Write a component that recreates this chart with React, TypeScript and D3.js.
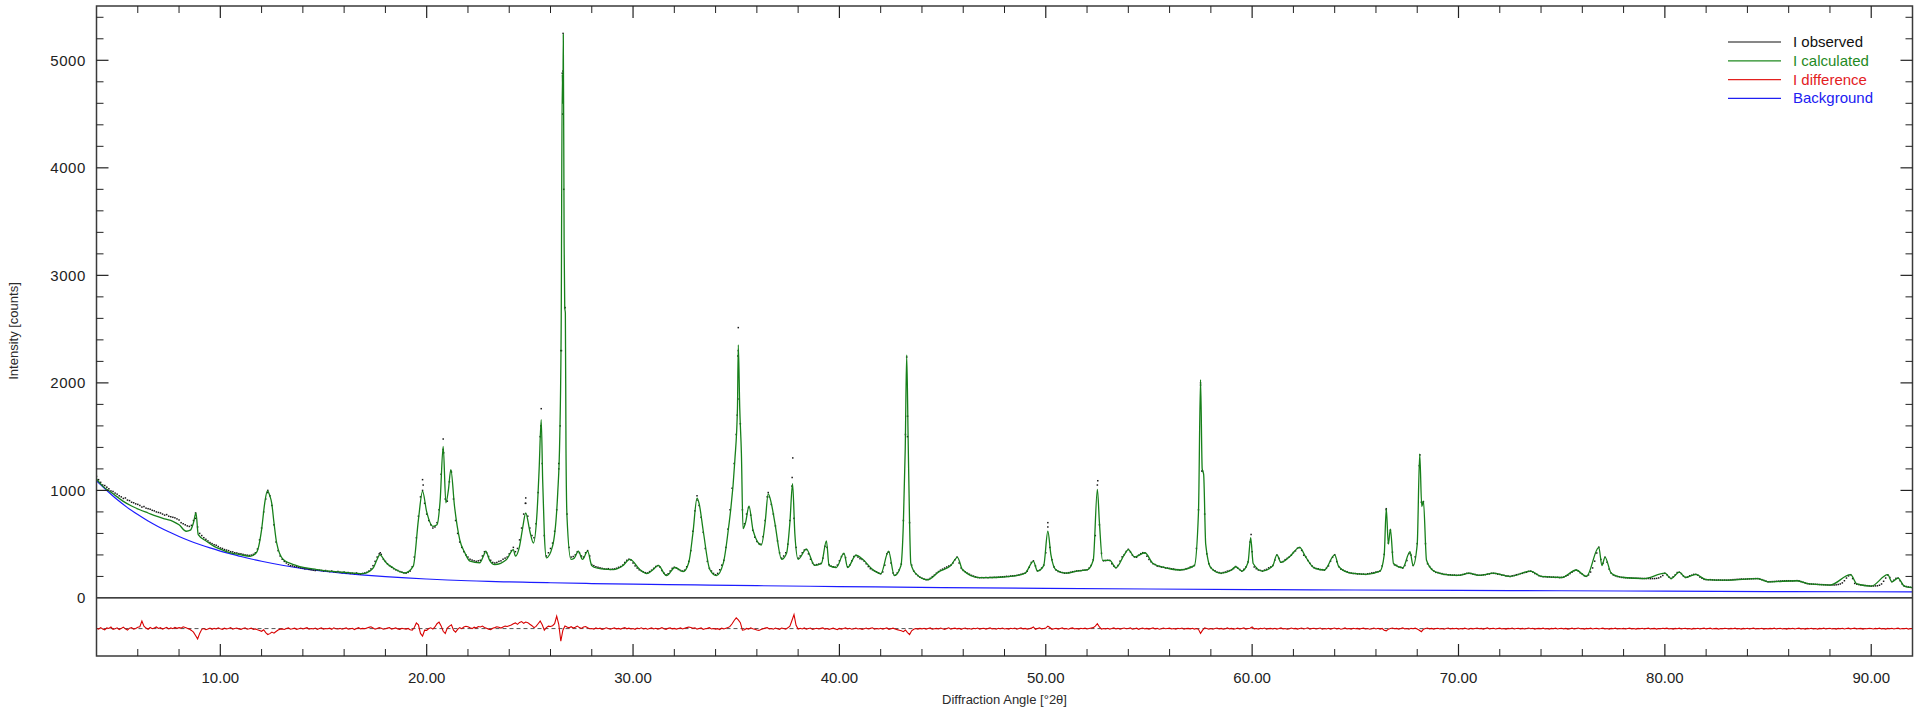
import React from "react";
import * as d3 from "d3";

const W = 1920;
const H = 713;
const PLOT = { left: 96.5, right: 1912.5, top: 6, bottom: 656 };

const X_DOMAIN: [number, number] = [4, 92];
const Y_DOMAIN: [number, number] = [-540, 5505];
const DIFF_BASELINE = -285;

const xMajorTicks = [10, 20, 30, 40, 50, 60, 70, 80, 90];
const xTickLabels = ["10.00", "20.00", "30.00", "40.00", "50.00", "60.00", "70.00", "80.00", "90.00"];
const xMinorTicks = [6, 8, 12, 14, 16, 18, 22, 24, 26, 28, 32, 34, 36, 38, 42, 44, 46, 48, 52, 54, 56, 58, 62, 64, 66, 68, 72, 74, 76, 78, 82, 84, 86, 88];
const yMajorTicks = [0, 1000, 2000, 3000, 4000, 5000];
const yTickLabels = ["0", "1000", "2000", "3000", "4000", "5000"];
const yMinorTicks = [200, 400, 600, 800, 1200, 1400, 1600, 1800, 2200, 2400, 2600, 2800, 3200, 3400, 3600, 3800, 4200, 4400, 4600, 4800, 5200, 5400];

const legendNames = ["I observed", "I calculated", "I difference", "Background"];
const legendColors = ["#111111", "#1f8a1f", "#e3211f", "#2020f2"];
const lineColors = { calc: "#17801a", diff: "#d80000", bg: "#1c1cff", obs: "#1a1a1a" };

// calculated profile [2θ, counts]
const calcPoints: [number, number][] = [
  [4.0, 1107], [4.3, 1040], [4.65, 990], [5.0, 940], [5.3, 898], [5.7, 855], [6.1, 820], [6.5, 790], [6.9, 760], [7.3, 735], [7.7, 712], [8.0, 680], [8.35, 620], [8.55, 630], [8.7, 700], [8.82, 790], [8.93, 588], [9.33, 527], [9.7, 480], [10.14, 443], [10.5, 420], [10.95, 403], [11.44, 387], [11.76, 425], [12.0, 636], [12.15, 880], [12.28, 995], [12.4, 950], [12.49, 882], [12.6, 700], [12.73, 511], [13.05, 357], [13.7, 301], [14.67, 264], [15.96, 239], [16.93, 226], [17.2, 245], [17.41, 279], [17.6, 360], [17.73, 403], [17.85, 380], [17.98, 341], [18.38, 279], [18.95, 233], [19.35, 295], [19.6, 729], [19.8, 992], [20.0, 800], [20.3, 666], [20.5, 680], [20.65, 900], [20.8, 1410], [20.93, 884], [21.05, 1000], [21.17, 1193], [21.35, 850], [21.6, 543], [21.85, 420], [22.1, 342], [22.57, 327], [22.75, 390], [22.86, 435], [23.05, 350], [23.3, 311], [23.87, 358], [24.2, 450], [24.3, 389], [24.5, 480], [24.65, 650], [24.8, 790], [25.0, 620], [25.17, 511], [25.35, 800], [25.45, 1200], [25.55, 1658], [25.62, 1100], [25.7, 600], [25.8, 373], [26.1, 482], [26.35, 977], [26.45, 1500], [26.52, 2600], [26.57, 4870], [26.6, 4600], [26.62, 5240], [26.66, 3300], [26.69, 2700], [26.72, 2650], [26.75, 1400], [26.8, 750], [26.99, 358], [27.15, 370], [27.35, 435], [27.55, 358], [27.8, 435], [28.0, 300], [28.15, 283], [28.5, 270], [29.04, 264], [29.5, 300], [29.85, 359], [30.33, 264], [30.66, 226], [30.95, 260], [31.22, 302], [31.62, 207], [32.03, 283], [32.43, 245], [32.7, 330], [32.9, 600], [33.1, 929], [33.2, 880], [33.4, 625], [33.72, 264], [34.04, 207], [34.37, 321], [34.61, 625], [34.93, 1271], [35.06, 1766], [35.1, 2354], [35.17, 1766], [35.25, 1347], [35.33, 644], [35.45, 700], [35.62, 853], [35.82, 625], [36.22, 492], [36.4, 700], [36.55, 967], [36.7, 880], [36.87, 701], [37.2, 359], [37.44, 416], [37.6, 700], [37.73, 1062], [37.84, 600], [38.0, 359], [38.4, 454], [38.8, 302], [39.13, 321], [39.37, 530], [39.5, 300], [39.85, 283], [40.22, 416], [40.4, 283], [40.8, 397], [41.13, 359], [41.61, 264], [42.01, 226], [42.38, 435], [42.66, 207], [42.98, 300], [43.1, 700], [43.19, 1386], [43.26, 2260], [43.33, 1481], [43.4, 700], [43.46, 321], [43.7, 226], [44.27, 169], [44.83, 245], [45.4, 302], [45.72, 378], [45.96, 264], [46.77, 188],
  [47.5, 190], [48.5, 205], [49.0, 230], [49.4, 340], [49.6, 250], [49.9, 300], [50.1, 620], [50.25, 400], [50.5, 260], [51.0, 230], [51.5, 250], [52.0, 260], [52.3, 350], [52.5, 1010], [52.6, 700], [52.75, 350], [53.1, 350], [53.4, 280], [53.8, 400], [54.0, 450], [54.3, 380], [54.8, 420], [55.2, 320], [55.8, 280], [56.5, 260], [57.2, 300], [57.4, 800], [57.5, 2030], [57.58, 1200], [57.65, 1150], [57.75, 500], [58.0, 280], [58.5, 230], [59.0, 260], [59.2, 290], [59.5, 250], [59.8, 330], [59.93, 560], [60.05, 320], [60.5, 250], [61.0, 300], [61.2, 400], [61.4, 330], [61.8, 380], [62.3, 470], [62.6, 380], [63.0, 280], [63.5, 260], [64.0, 400], [64.2, 290], [64.8, 230], [65.5, 220], [66.2, 250], [66.4, 400], [66.5, 830], [66.6, 500], [66.7, 640], [66.85, 320], [67.3, 280], [67.65, 430], [67.8, 300], [68.0, 500], [68.12, 1340], [68.22, 850], [68.3, 900], [68.45, 350], [68.8, 250], [69.3, 220], [70.0, 210], [70.5, 230], [71.0, 210], [71.7, 230], [72.5, 200], [73.5, 250], [74.0, 200], [75.0, 190], [75.7, 260], [76.2, 200], [76.8, 470], [76.95, 300], [77.1, 380], [77.4, 230], [78.0, 190], [79.0, 180], [80.0, 230], [80.3, 180], [80.7, 240], [81.0, 190], [81.5, 220], [82.0, 170], [83.0, 165], [83.9, 175], [84.5, 180], [85.0, 150], [86.4, 160], [87.0, 130], [88.0, 120], [89.0, 216], [89.3, 130], [90.0, 110], [90.8, 216], [91.0, 150], [91.3, 185], [91.6, 110], [92.0, 95],
];

// background [2θ, counts]
const backgroundPoints: [number, number][] = [
  [4, 1090], [4.5, 1000], [5, 915], [5.5, 840], [6, 775], [6.5, 715], [7, 662], [7.5, 615], [8, 572], [8.5, 532], [9, 497], [9.5, 465], [10, 436], [10.5, 410], [11, 385], [11.5, 362], [12, 341], [13, 304], [14, 273], [15, 248], [16, 228], [17, 212], [18, 198], [19, 186], [20, 176], [21, 167], [22, 160], [23, 154], [24, 149], [25, 145], [26, 141], [28, 134], [30, 129], [33, 121], [36, 114], [40, 106], [45, 96], [50, 89], [55, 83], [60, 78], [65, 74], [70, 70], [75, 67], [80, 63], [86, 59], [92, 56],
];

// observed counts, 2θ from 4.0 in steps of 0.1 (one row per degree)
const OBS_START = 4;
const OBS_STEP = 0.1;
const obsRows: number[][] = [
  [1130, 1100, 1075, 1050, 1045, 1030, 1015, 995, 990, 975],
  [965, 950, 940, 925, 930, 910, 905, 890, 885, 875],
  [870, 860, 845, 850, 835, 830, 825, 815, 810, 800],
  [795, 790, 780, 770, 775, 760, 755, 750, 745, 735],
  [725, 700, 690, 680, 670, 665, 675, 720, 740, 660],
  [600, 580, 560, 545, 530, 515, 505, 495, 490, 478],
  [465, 460, 450, 445, 440, 430, 428, 420, 418, 412],
  [410, 405, 400, 398, 395, 398, 405, 420, 455, 540],
  [650, 800, 920, 980, 950, 860, 680, 520, 440, 390],
  [360, 340, 325, 310, 300, 298, 292, 290, 285, 280],
  [278, 270, 272, 265, 262, 258, 255, 262, 258, 255],
  [250, 255, 248, 245, 250, 244, 240, 246, 238, 235],
  [240, 232, 236, 228, 230, 226, 232, 225, 222, 228],
  [232, 238, 250, 270, 300, 340, 380, 410, 405, 360],
  [340, 318, 300, 285, 272, 262, 255, 245, 240, 232],
  [230, 238, 250, 290, 380, 560, 760, 940, 1000, 880],
  [780, 720, 680, 650, 660, 700, 820, 1150, 1380, 920],
  [900, 1080, 1170, 920, 720, 600, 520, 470, 430, 400],
  [380, 360, 352, 345, 340, 345, 350, 390, 430, 420],
  [385, 350, 330, 325, 330, 340, 345, 360, 370, 380],
  [410, 440, 470, 430, 460, 540, 650, 780, 880, 760],
  [650, 580, 560, 690, 980, 1500, 1250, 580, 390, 420],
  [460, 510, 620, 820, 1250, 2300, 4900, 2700, 780, 470],
  [380, 385, 400, 430, 420, 390, 380, 420, 440, 390],
  [310, 300, 290, 285, 280, 275, 270, 268, 272, 265],
  [268, 270, 276, 285, 292, 305, 330, 350, 360, 352],
  [325, 298, 278, 262, 252, 242, 235, 232, 245, 258],
  [275, 292, 300, 288, 255, 230, 215, 225, 250, 275],
  [285, 278, 265, 255, 250, 258, 290, 340, 440, 620],
  [810, 910, 860, 750, 610, 460, 340, 275, 250, 228],
  [215, 228, 262, 305, 350, 470, 640, 820, 1020, 1250],
  [1520, 2300, 1620, 820, 690, 780, 840, 770, 630, 565],
  [525, 505, 500, 570, 720, 940, 940, 870, 780, 670],
  [530, 420, 370, 390, 420, 500, 720, 1040, 740, 470],
  [370, 390, 420, 445, 450, 410, 360, 325, 305, 310],
  [315, 320, 370, 480, 470, 310, 295, 290, 285, 305],
  [345, 385, 410, 375, 290, 305, 345, 385, 395, 380],
  [365, 358, 342, 318, 292, 272, 262, 252, 243, 232],
  [225, 242, 305, 410, 425, 325, 232, 212, 232, 262],
  [315, 720, 1520, 1690, 700, 305, 250, 225, 208, 193],
  [184, 176, 170, 172, 182, 198, 212, 230, 245, 258],
  [268, 278, 288, 297, 305, 325, 355, 380, 325, 278],
  [256, 243, 230, 220, 210, 203, 196, 190, 188, 189],
  [188, 190, 188, 191, 190, 192, 191, 193, 195, 197],
  [198, 201, 200, 204, 205, 207, 210, 214, 220, 226],
  [232, 248, 285, 330, 345, 298, 252, 257, 278, 305],
  [420, 660, 470, 355, 288, 260, 246, 240, 236, 230],
  [231, 235, 239, 244, 246, 251, 253, 254, 258, 259],
  [262, 278, 302, 355, 580, 1050, 680, 415, 345, 347],
  [350, 348, 318, 296, 282, 302, 342, 382, 402, 432],
  [452, 428, 398, 382, 378, 397, 412, 421, 418, 388],
  [358, 336, 318, 310, 296, 293, 287, 285, 279, 278],
  [275, 271, 269, 264, 263, 259, 263, 264, 272, 276],
  [287, 291, 302, 460, 820, 1980, 1180, 780, 410, 318],
  [282, 263, 253, 240, 236, 229, 236, 241, 249, 254],
  [262, 273, 292, 278, 264, 249, 266, 288, 335, 520],
  [430, 288, 272, 260, 256, 249, 259, 266, 280, 288],
  [302, 352, 398, 368, 332, 338, 356, 368, 382, 398],
  [422, 438, 462, 468, 442, 398, 382, 348, 322, 298],
  [282, 273, 271, 264, 263, 258, 277, 298, 342, 378],
  [402, 338, 292, 268, 259, 249, 244, 235, 231, 227],
  [227, 223, 224, 221, 222, 219, 225, 227, 233, 235],
  [241, 244, 252, 298, 405, 820, 510, 630, 425, 308],
  [302, 290, 286, 278, 302, 348, 412, 398, 302, 382],
  [505, 1230, 890, 895, 505, 318, 292, 268, 252, 238],
  [236, 229, 226, 219, 219, 215, 215, 212, 213, 210],
  [211, 212, 218, 221, 228, 229, 227, 221, 219, 213],
  [211, 211, 215, 216, 221, 223, 229, 229, 227, 221],
  [219, 213, 211, 205, 204, 199, 206, 209, 216, 219],
  [226, 229, 236, 239, 247, 249, 241, 227, 219, 207],
  [201, 197, 198, 195, 196, 193, 194, 191, 192, 189],
  [191, 194, 203, 211, 226, 239, 253, 259, 251, 234],
  [221, 207, 201, 214, 241, 279, 342, 418, 472, 358],
  [322, 378, 332, 268, 231, 214, 206, 199, 196, 191],
  [190, 188, 187, 186, 185, 184, 184, 183, 182, 181],
  [181, 180, 181, 179, 180, 180, 182, 186, 196, 209],
  [229, 216, 194, 181, 196, 214, 236, 239, 226, 204],
  [191, 194, 206, 211, 219, 219, 211, 194, 183, 173],
  [171, 169, 170, 168, 167, 166, 167, 166, 165, 166],
  [165, 166, 168, 170, 171, 173, 174, 176, 175, 175],
  [176, 177, 178, 179, 180, 180, 176, 170, 163, 157],
  [150, 151, 152, 153, 155, 156, 157, 158, 159, 160],
  [160, 159, 158, 160, 161, 159, 152, 145, 138, 133],
  [130, 129, 128, 127, 126, 125, 124, 123, 122, 121],
  [120, 121, 120, 122, 125, 130, 140, 160, 185, 205],
  [216, 180, 135, 128, 124, 120, 118, 116, 114, 112],
  [110, 111, 112, 113, 118, 130, 155, 185, 214, 190],
  [152, 165, 182, 185, 160, 130, 110, 106, 102, 99],
  [95],
];

// extra observed points on the sharp peak flanks [2θ, counts]
const obsPeakDots: [number, number][] = [
  [26.61, 5250], [26.57, 4880], [26.59, 4500], [26.69, 2700], [26.53, 2300], [26.47, 1600], [26.4, 1200], [26.64, 3800],
  [35.1, 2514], [35.08, 2250], [35.14, 1850], [35.05, 1700], [37.74, 1302], [37.71, 1120], [25.55, 1760], [25.53, 1600],
  [20.8, 1478], [20.82, 1350], [19.8, 1100], [19.83, 1050], [12.3, 1000], [8.8, 790], [43.26, 2240], [43.3, 1500],
  [57.5, 2000], [57.56, 1180], [52.52, 1090], [50.1, 700], [59.95, 590], [68.13, 1330], [68.25, 880], [66.5, 830],
  [24.8, 930], [24.78, 880], [21.17, 1180], [33.1, 950], [36.55, 980], [17.75, 420],
];

// difference curve (already offset), 2θ from 4.0 in steps of 0.1 (one row per degree)
const diffRows: number[][] = [
  [-282, -291, -276, -288, -296, -279, -284, -270, -292, -286],
  [-278, -294, -283, -272, -288, -299, -281, -276, -290, -284],
  [-272, -268, -215, -262, -280, -291, -275, -286, -279, -270],
  [-284, -277, -290, -281, -273, -288, -279, -286, -274, -283],
  [-276, -281, -268, -274, -283, -290, -302, -318, -350, -381],
  [-330, -292, -285, -296, -288, -280, -292, -283, -289, -278],
  [-286, -292, -281, -289, -284, -276, -291, -285, -280, -288],
  [-292, -284, -278, -290, -286, -281, -293, -288, -296, -302],
  [-310, -296, -322, -340, -332, -318, -328, -312, -298, -290],
  [-288, -293, -284, -279, -290, -286, -281, -292, -287, -280],
  [-289, -283, -277, -291, -285, -288, -280, -293, -284, -279],
  [-290, -284, -287, -281, -292, -278, -286, -289, -283, -291],
  [-284, -279, -290, -286, -282, -294, -285, -277, -288, -283],
  [-286, -280, -274, -268, -279, -290, -284, -276, -282, -291],
  [-287, -281, -276, -290, -284, -279, -288, -292, -283, -286],
  [-290, -284, -296, -300, -275, -233, -250, -330, -355, -300],
  [-302, -285, -278, -290, -270, -240, -225, -260, -310, -330],
  [-280, -262, -250, -300, -318, -292, -276, -286, -270, -264],
  [-268, -278, -285, -272, -280, -266, -270, -262, -274, -282],
  [-290, -296, -282, -276, -268, -272, -280, -270, -262, -266],
  [-258, -252, -240, -232, -246, -228, -220, -236, -224, -230],
  [-245, -258, -276, -265, -240, -215, -250, -300, -276, -262],
  [-266, -258, -240, -170, -245, -403, -300, -260, -270, -278],
  [-268, -280, -272, -262, -276, -284, -270, -266, -278, -286],
  [-284, -290, -279, -286, -281, -292, -287, -278, -284, -291],
  [-285, -279, -288, -283, -290, -282, -276, -287, -281, -289],
  [-284, -292, -280, -286, -278, -289, -283, -291, -285, -279],
  [-288, -282, -290, -284, -277, -286, -292, -283, -279, -288],
  [-283, -290, -285, -279, -288, -282, -276, -270, -275, -283],
  [-278, -290, -284, -279, -292, -286, -283, -277, -289, -285],
  [-290, -286, -294, -281, -288, -282, -276, -265, -240, -210],
  [-186, -205, -230, -300, -296, -284, -290, -278, -286, -292],
  [-298, -302, -294, -286, -281, -276, -288, -284, -291, -280],
  [-286, -292, -280, -284, -290, -278, -262, -210, -155, -255],
  [-290, -282, -288, -279, -291, -285, -280, -293, -286, -282],
  [-289, -283, -279, -290, -284, -292, -286, -281, -288, -294],
  [-283, -290, -285, -279, -288, -282, -291, -286, -280, -289],
  [-284, -292, -286, -280, -289, -283, -278, -291, -285, -288],
  [-282, -290, -284, -279, -292, -286, -281, -288, -295, -300],
  [-306, -314, -298, -322, -340, -306, -292, -285, -290, -283],
  [-288, -282, -290, -284, -279, -291, -286, -283, -289, -280],
  [-287, -292, -284, -278, -290, -285, -281, -288, -283, -292],
  [-284, -280, -289, -285, -291, -282, -287, -280, -290, -284],
  [-282, -290, -285, -279, -288, -284, -291, -283, -287, -280],
  [-289, -284, -290, -282, -286, -280, -291, -285, -279, -288],
  [-283, -290, -286, -281, -270, -292, -285, -279, -288, -284],
  [-280, -262, -275, -292, -286, -282, -290, -284, -279, -288],
  [-285, -291, -283, -279, -288, -284, -290, -282, -287, -281],
  [-289, -284, -280, -276, -262, -240, -270, -290, -284, -288],
  [-282, -290, -285, -279, -288, -283, -291, -284, -280, -287],
  [-284, -279, -290, -286, -281, -292, -285, -280, -288, -283],
  [-290, -284, -279, -288, -283, -291, -286, -280, -287, -284],
  [-281, -289, -284, -290, -282, -287, -280, -291, -285, -283],
  [-288, -282, -290, -285, -292, -330, -300, -278, -284, -290],
  [-284, -291, -285, -280, -288, -283, -290, -286, -279, -288],
  [-283, -290, -286, -281, -289, -284, -279, -291, -285, -282],
  [-270, -288, -284, -290, -282, -287, -280, -291, -285, -283],
  [-289, -282, -290, -285, -279, -288, -284, -291, -286, -280],
  [-287, -283, -290, -284, -280, -289, -285, -278, -290, -284],
  [-282, -289, -285, -280, -291, -284, -288, -282, -290, -285],
  [-280, -288, -283, -291, -286, -279, -288, -284, -290, -282],
  [-287, -283, -290, -285, -281, -289, -284, -291, -286, -280],
  [-288, -282, -290, -284, -300, -306, -290, -284, -280, -287],
  [-283, -290, -285, -279, -288, -284, -291, -283, -287, -281],
  [-289, -300, -314, -292, -284, -280, -288, -283, -290, -285],
  [-282, -288, -284, -291, -285, -280, -289, -283, -287, -282],
  [-290, -284, -288, -281, -286, -291, -283, -288, -284, -280],
  [-287, -283, -290, -284, -279, -288, -285, -282, -289, -284],
  [-281, -288, -284, -290, -283, -287, -280, -289, -285, -282],
  [-288, -283, -289, -284, -280, -287, -282, -290, -285, -283],
  [-286, -281, -288, -284, -290, -283, -287, -281, -289, -284],
  [-282, -288, -283, -290, -286, -281, -288, -284, -280, -287],
  [-284, -290, -283, -287, -281, -289, -284, -282, -288, -285],
  [-281, -288, -284, -290, -283, -286, -281, -289, -284, -287],
  [-283, -289, -285, -281, -288, -284, -290, -283, -286, -282],
  [-288, -284, -281, -289, -285, -283, -290, -284, -287, -282],
  [-285, -281, -288, -284, -290, -283, -286, -281, -289, -284],
  [-282, -288, -285, -290, -283, -287, -282, -289, -285, -281],
  [-288, -284, -281, -289, -285, -283, -290, -284, -287, -282],
  [-285, -289, -283, -287, -281, -288, -284, -290, -283, -286],
  [-282, -288, -285, -281, -289, -284, -287, -282, -290, -285],
  [-288, -283, -287, -281, -289, -285, -282, -288, -284, -290],
  [-283, -287, -282, -289, -285, -281, -288, -284, -290, -283],
  [-287, -282, -288, -284, -290, -283, -286, -281, -289, -284],
  [-282, -288, -285, -290, -283, -287, -282, -289, -285, -281],
  [-288, -284, -281, -289, -285, -283, -290, -284, -287, -282],
  [-285, -289, -283, -287, -281, -288, -284, -290, -283, -286],
  [-282, -288, -285, -281, -289, -284, -287, -282, -290, -285],
  [-284],
];

export default function App() {
  const x = d3.scaleLinear().domain(X_DOMAIN).range([PLOT.left, PLOT.right]);
  const y = d3.scaleLinear().domain(Y_DOMAIN).range([PLOT.bottom, PLOT.top]);

  const smoothLine = d3
    .line<[number, number]>()
    .x((d) => x(d[0]))
    .y((d) => y(d[1]))
    .curve(d3.curveMonotoneX);

  const obsCounts = obsRows.flat();
  const diffCounts = diffRows.flat();

  const diffLine = d3
    .line<number>()
    .x((_, i) => x(OBS_START + i * OBS_STEP))
    .y((d) => y(d));

  const obsAll: [number, number][] = obsCounts
    .map((v, i) => [OBS_START + i * OBS_STEP, v] as [number, number])
    .concat(obsPeakDots);

  const font = "'Liberation Sans', Arial, Helvetica, sans-serif";
  const axisColor = "#3a3a3a";
  const tickColor = "#222";
  const minorLen = 7;
  const majorLen = 12;

  return (
    <svg
      width={W}
      height={H}
      viewBox={`0 0 ${W} ${H}`}
      style={{ position: "absolute", left: 0, top: 0, display: "block", background: "#fff" }}
    >
      <defs>
        <clipPath id="plotClip">
          <rect x={PLOT.left} y={PLOT.top} width={PLOT.right - PLOT.left} height={PLOT.bottom - PLOT.top} />
        </clipPath>
      </defs>

      <g clipPath="url(#plotClip)">
        <line x1={PLOT.left} x2={PLOT.right} y1={y(0)} y2={y(0)} stroke="#000" strokeWidth={1.2} />
        <line
          x1={PLOT.left}
          x2={PLOT.right}
          y1={y(DIFF_BASELINE)}
          y2={y(DIFF_BASELINE)}
          stroke="#555"
          strokeWidth={1}
          strokeDasharray="4,3"
        />
        <path d={smoothLine(backgroundPoints) || ""} fill="none" stroke={lineColors.bg} strokeWidth={1.2} />
        {obsAll.map((d, i) => (
          <rect key={i} x={x(d[0]) - 0.75} y={y(d[1]) - 0.75} width={1.5} height={1.5} fill={lineColors.obs} />
        ))}
        <path d={smoothLine(calcPoints) || ""} fill="none" stroke={lineColors.calc} strokeWidth={1.3} />
        <path d={diffLine(diffCounts) || ""} fill="none" stroke={lineColors.diff} strokeWidth={1.1} />
      </g>

      <rect
        x={PLOT.left}
        y={PLOT.top}
        width={PLOT.right - PLOT.left}
        height={PLOT.bottom - PLOT.top}
        fill="none"
        stroke={axisColor}
        strokeWidth={1.5}
      />

      {xMinorTicks.map((t) => (
        <g key={"xm" + t}>
          <line x1={x(t)} x2={x(t)} y1={PLOT.bottom} y2={PLOT.bottom - minorLen} stroke={tickColor} strokeWidth={1} />
          <line x1={x(t)} x2={x(t)} y1={PLOT.top} y2={PLOT.top + minorLen} stroke={tickColor} strokeWidth={1} />
        </g>
      ))}
      {xMajorTicks.map((t, i) => (
        <g key={"xM" + t}>
          <line x1={x(t)} x2={x(t)} y1={PLOT.bottom} y2={PLOT.bottom - majorLen} stroke={tickColor} strokeWidth={1.2} />
          <line x1={x(t)} x2={x(t)} y1={PLOT.top} y2={PLOT.top + majorLen} stroke={tickColor} strokeWidth={1.2} />
          <text x={x(t)} y={683} textAnchor="middle" fontFamily={font} fontSize={15} fill="#222">
            {xTickLabels[i]}
          </text>
        </g>
      ))}

      {yMinorTicks.map((t) => (
        <g key={"ym" + t}>
          <line x1={PLOT.left} x2={PLOT.left + minorLen} y1={y(t)} y2={y(t)} stroke={tickColor} strokeWidth={1} />
          <line x1={PLOT.right} x2={PLOT.right - minorLen} y1={y(t)} y2={y(t)} stroke={tickColor} strokeWidth={1} />
        </g>
      ))}
      {yMajorTicks.map((t, i) => (
        <g key={"yM" + t}>
          {t !== 0 && (
            <>
              <line x1={PLOT.left} x2={PLOT.left + majorLen} y1={y(t)} y2={y(t)} stroke={tickColor} strokeWidth={1.2} />
              <line x1={PLOT.right} x2={PLOT.right - majorLen} y1={y(t)} y2={y(t)} stroke={tickColor} strokeWidth={1.2} />
            </>
          )}
          <text x={86} y={y(t) + 5.3} textAnchor="end" fontFamily={font} fontSize={15} letterSpacing={0.6} fill="#222">
            {yTickLabels[i]}
          </text>
        </g>
      ))}

      <text x={(PLOT.left + PLOT.right) / 2} y={704} textAnchor="middle" fontFamily={font} fontSize={13} fill="#2a2a2a">
        Diffraction Angle [°2θ]
      </text>
      <text
        transform={`translate(18, ${(PLOT.top + PLOT.bottom) / 2}) rotate(-90)`}
        textAnchor="middle"
        fontFamily={font}
        fontSize={13}
        fill="#2a2a2a"
      >
        Intensity [counts]
      </text>

      {legendNames.map((name, i) => {
        const ly = 42 + i * 18.8;
        return (
          <g key={name}>
            <line x1={1728} x2={1781} y1={ly} y2={ly} stroke={legendColors[i]} strokeWidth={1.2} />
            <text x={1793} y={ly + 5} fontFamily={font} fontSize={15} fill={legendColors[i]}>
              {name}
            </text>
          </g>
        );
      })}
    </svg>
  );
}
